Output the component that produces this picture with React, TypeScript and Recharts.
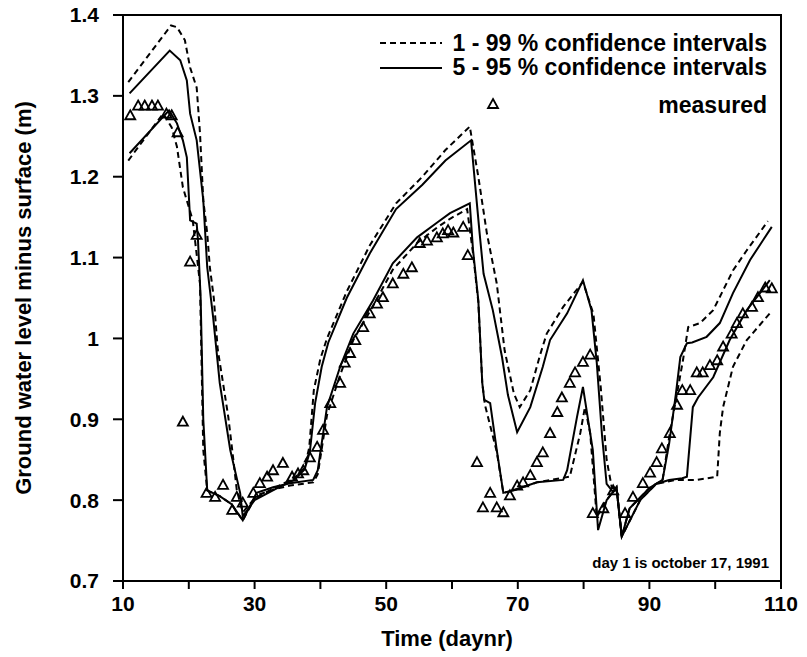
import React from 'react';
import { ComposedChart, Line, Scatter, XAxis, YAxis, ReferenceArea } from 'recharts';

// Upper 1-99 % bound (dashed)
const u99Days = [10.8, 17.3, 18.2, 19.4, 20.2, 21.2, 21.7, 22.2, 22.8, 23.2, 23.8, 24.4, 25.2, 26, 26.6, 27.3, 28.2, 30, 33, 36, 37.6, 38.3, 39, 40, 41, 44, 47.5, 51.5, 55.5, 59, 62.7, 64, 65.3, 66.8, 68, 69.4, 70.3, 71.9, 73.4, 74.4, 76.9, 79.9, 81.5, 82.6, 83.5, 84.3, 85, 85.8, 87, 90, 92, 93.1, 94.2, 95.1, 95.9, 97.7, 99.7, 102.7, 104.8, 108];
const u99Vals = [1.317, 1.387, 1.385, 1.369, 1.335, 1.31, 1.254, 1.171, 1.13, 1.088, 1.05, 0.986, 0.945, 0.903, 0.862, 0.812, 0.785, 0.802, 0.815, 0.827, 0.84, 0.865, 0.936, 0.975, 1.0, 1.058, 1.115, 1.167, 1.2, 1.233, 1.262, 1.2, 1.13, 1.068, 0.985, 0.932, 0.915, 0.936, 0.98, 1.006, 1.039, 1.07, 1.03, 0.94, 0.85, 0.815, 0.815, 0.755, 0.79, 0.815, 0.825, 0.883, 0.932, 0.973, 1.014, 1.019, 1.035, 1.084, 1.109, 1.145];

// Upper 5-95 % bound (solid)
const u95Days = [11, 17.1, 18.7, 19.7, 20.2, 21.2, 22.2, 22.8, 23.7, 24.7, 26.3, 27.8, 28.2, 30, 33, 36, 37.6, 38.4, 39.2, 40.2, 41.2, 44, 47.5, 51.5, 55.5, 59, 62.9, 64.2, 64.8, 66.2, 67.6, 68.5, 69.9, 71.9, 73.8, 74.9, 77.5, 79.9, 81.2, 82, 82.8, 83.5, 84.5, 85, 85.8, 87, 90, 92, 93, 94, 94.7, 95.7, 96.5, 98.7, 100.7, 102.7, 105.3, 108.6];
const u95Vals = [1.303, 1.356, 1.344, 1.319, 1.278, 1.245, 1.171, 1.088, 1.026, 0.945, 0.862, 0.809, 0.78, 0.8, 0.813, 0.825, 0.838, 0.86, 0.92, 0.965, 0.995, 1.05, 1.105, 1.16, 1.19, 1.22, 1.245, 1.13, 1.08, 1.035, 0.977, 0.93, 0.884, 0.915, 0.965, 0.998, 1.031, 1.072, 1.035, 0.97, 0.88, 0.82, 0.81, 0.815, 0.755, 0.79, 0.815, 0.825, 0.87, 0.93, 0.977, 0.994, 0.995, 1.002, 1.019, 1.056, 1.097, 1.138];

// Lower 5-95 % bound (solid)
const l95Days = [11, 17, 18.2, 19.1, 19.7, 20.2, 21.2, 21.4, 21.8, 22.2, 22.8, 24.7, 26.5, 28.2, 30.3, 32.8, 35.4, 38.9, 39.6, 41, 43, 45, 48, 51, 54.7, 57.7, 59.7, 62.7, 63.2, 64, 64.6, 64.9, 65.8, 66.8, 67.8, 69.3, 72.9, 76.9, 77.5, 79, 79.9, 81.4, 82.2, 83.5, 85, 85.8, 88.6, 91, 93, 95, 95.7, 96.6, 97.4, 99.7, 102.2, 104.8, 108.3];
const l95Vals = [1.229, 1.282, 1.266, 1.245, 1.224, 1.146, 1.142, 1.121, 1.05, 0.9, 0.812, 0.805, 0.795, 0.775, 0.809, 0.816, 0.821, 0.825, 0.837, 0.915, 0.965, 1.006, 1.047, 1.093, 1.125, 1.143, 1.155, 1.167, 1.109, 1.047, 0.945, 0.924, 0.92, 0.862, 0.809, 0.812, 0.822, 0.825, 0.837, 0.903, 0.94, 0.862, 0.763, 0.8, 0.816, 0.755, 0.8, 0.82, 0.825, 0.827, 0.829, 0.915, 0.927, 0.952, 0.998, 1.035, 1.072];

// Lower 1-99 % bound (dashed)
const l99Days = [10.8, 16.1, 17.4, 18.2, 19.1, 20.6, 21.7, 22.2, 22.8, 24.7, 26.5, 28.2, 30.3, 32.8, 35.4, 38.9, 39.6, 41, 43, 45, 48, 51, 54.7, 57.7, 59.7, 62.3, 63.2, 64, 64.6, 65, 66.8, 67.8, 69.3, 72.9, 77.9, 79.5, 80.2, 81, 82, 83.5, 85, 85.8, 88.6, 91, 94, 97.2, 100.3, 100.7, 101.2, 102.7, 104.8, 108.3];
const l99Vals = [1.22, 1.278, 1.261, 1.237, 1.187, 1.146, 1.068, 0.862, 0.812, 0.805, 0.795, 0.775, 0.806, 0.813, 0.818, 0.822, 0.832, 0.905, 0.955, 0.998, 1.04, 1.085, 1.118, 1.137, 1.148, 1.16, 1.105, 1.045, 0.945, 0.918, 0.86, 0.809, 0.812, 0.822, 0.829, 0.883, 0.915, 0.883, 0.779, 0.8, 0.816, 0.755, 0.8, 0.82, 0.825, 0.825, 0.829, 0.883, 0.915, 0.965, 0.998, 1.031];

// Measured
const measDays = [11.1, 12.3, 13.3, 14.4, 15.3, 16.6, 17.4, 18.3, 19.1, 20.2, 21.2, 22.7, 24, 25.2, 26.6, 27.3, 28.2, 29.8, 30.8, 31.9, 32.8, 34.3, 35.7, 36.6, 37.4, 38.4, 39.5, 40.4, 41.5, 43, 43.7, 44.5, 45.3, 46.5, 47.5, 48.6, 49.5, 51, 52.6, 53.9, 55.1, 56.2, 57.7, 58.6, 59.4, 60.2, 61.7, 62.4, 63.8, 64.7, 65.8, 66.8, 67.8, 68.8, 69.9, 70.8, 71.9, 72.9, 73.8, 74.9, 76, 76.7, 77.9, 78.7, 79.9, 81, 81.4, 83, 84.5, 86.3, 87.5, 89, 90.1, 91.1, 91.9, 93.1, 94.2, 95, 96.2, 97.2, 98.1, 99.2, 100.3, 101.2, 102.5, 103.3, 104.2, 105.6, 106.5, 107.6, 108.6];
const measVals = [1.276, 1.288, 1.288, 1.288, 1.288, 1.278, 1.276, 1.255, 0.897, 1.095, 1.128, 0.809, 0.804, 0.819, 0.788, 0.804, 0.797, 0.809, 0.821, 0.829, 0.837, 0.846, 0.829, 0.833, 0.837, 0.853, 0.866, 0.887, 0.92, 0.945, 0.97, 0.982, 0.998, 1.014, 1.031, 1.043, 1.051, 1.068, 1.08, 1.088, 1.118, 1.121, 1.125, 1.13, 1.134, 1.131, 1.138, 1.103, 0.847, 0.791, 0.809, 0.791, 0.785, 0.806, 0.818, 0.822, 0.831, 0.847, 0.859, 0.883, 0.909, 0.927, 0.945, 0.958, 0.971, 0.98, 0.784, 0.79, 0.812, 0.784, 0.804, 0.821, 0.834, 0.847, 0.864, 0.883, 0.918, 0.936, 0.936, 0.958, 0.958, 0.967, 0.973, 0.99, 1.006, 1.019, 1.031, 1.039, 1.051, 1.063, 1.062];

const xTicks = [10, 20, 30, 40, 50, 60, 70, 80, 90, 100, 110];
const yTicks = [0.7, 0.8, 0.9, 1, 1.1, 1.2, 1.3, 1.4];

const legendLabels = ['1 - 99 % confidence intervals', '5 - 95 % confidence intervals', 'measured'];
const xLabel = 'Time (daynr)';
const yLabel = 'Ground water level minus surface (m)';
const note = 'day 1 is october 17, 1991';

const pts = (d: number[], v: number[]) => d.map((x, i) => ({ x, y: v[i] }));
const u99 = pts(u99Days, u99Vals);
const u95 = pts(u95Days, u95Vals);
const l95 = pts(l95Days, l95Vals);
const l99 = pts(l99Days, l99Vals);
const meas = pts(measDays, measVals);

const FONT = '"Liberation Sans", Arial, Helvetica, sans-serif';

const Tri = (props: any) => {
  const { cx, cy } = props;
  if (cx == null || cy == null) return null;
  return (
    <path
      d={`M${cx},${cy - 5} L${cx + 5},${cy + 4} L${cx - 5},${cy + 4} Z`}
      fill="none"
      stroke="#000"
      strokeWidth={1.8}
      strokeLinejoin="miter"
    />
  );
};

export default function App() {
  return (
    <div style={{ position: 'absolute', left: 0, top: 0, width: 807, height: 657, background: '#fff' }}>
      <ComposedChart width={807} height={657} margin={{ top: 15, right: 26, bottom: 0, left: 0 }}>
        <XAxis
          dataKey="x"
          type="number"
          domain={[10, 110]}
          ticks={xTicks}
          allowDataOverflow
          height={76}
          tickSize={8}
          tickMargin={7}
          tickFormatter={(v: number) => ((v - 10) % 20 === 0 ? String(v) : '')}
          axisLine={{ stroke: '#000', strokeWidth: 2 }}
          tickLine={{ stroke: '#000', strokeWidth: 2 }}
          tick={{ fill: '#000', fontSize: 21, fontWeight: 'bold', fontFamily: FONT }}
        />
        <YAxis
          dataKey="y"
          type="number"
          domain={[0.7, 1.4]}
          ticks={yTicks}
          allowDataOverflow
          width={123}
          tickSize={10}
          tickMargin={14}
          tickFormatter={(v: number) => String(v)}
          axisLine={{ stroke: '#000', strokeWidth: 2 }}
          tickLine={{ stroke: '#000', strokeWidth: 2 }}
          tick={{ fill: '#000', fontSize: 21, fontWeight: 'bold', fontFamily: FONT }}
        />
        <ReferenceArea x1={10} x2={110} y1={0.7} y2={1.4} fill="none" stroke="#000" strokeWidth={2} ifOverflow="visible" />
        <Line data={u99} dataKey="y" type="linear" stroke="#000" strokeWidth={2} strokeDasharray="6 4" dot={false} isAnimationActive={false} />
        <Line data={l99} dataKey="y" type="linear" stroke="#000" strokeWidth={2} strokeDasharray="6 4" dot={false} isAnimationActive={false} />
        <Line data={u95} dataKey="y" type="linear" stroke="#000" strokeWidth={2} dot={false} isAnimationActive={false} />
        <Line data={l95} dataKey="y" type="linear" stroke="#000" strokeWidth={2} dot={false} isAnimationActive={false} />
        <Scatter data={meas} dataKey="y" shape={Tri} isAnimationActive={false} />
        <g fontFamily={FONT} fontWeight="bold" fill="#000">
          <line x1={380} y1={43} x2={442} y2={43} stroke="#000" strokeWidth={2} strokeDasharray="6 4" />
          <text x={767} y={51} textAnchor="end" fontSize={23}>{legendLabels[0]}</text>
          <line x1={380} y1={68} x2={442} y2={68} stroke="#000" strokeWidth={2} />
          <text x={767} y={75} textAnchor="end" fontSize={23}>{legendLabels[1]}</text>
          <Tri cx={493} cy={104} />
          <text x={767} y={113} textAnchor="end" fontSize={23}>{legendLabels[2]}</text>
          <text x={769} y={568} textAnchor="end" fontSize={15}>{note}</text>
          <text x={447} y={646} textAnchor="middle" fontSize={22}>{xLabel}</text>
          <text x={-298} y={31} transform="rotate(-90)" textAnchor="middle" fontSize={22}>{yLabel}</text>
        </g>
      </ComposedChart>
    </div>
  );
}
